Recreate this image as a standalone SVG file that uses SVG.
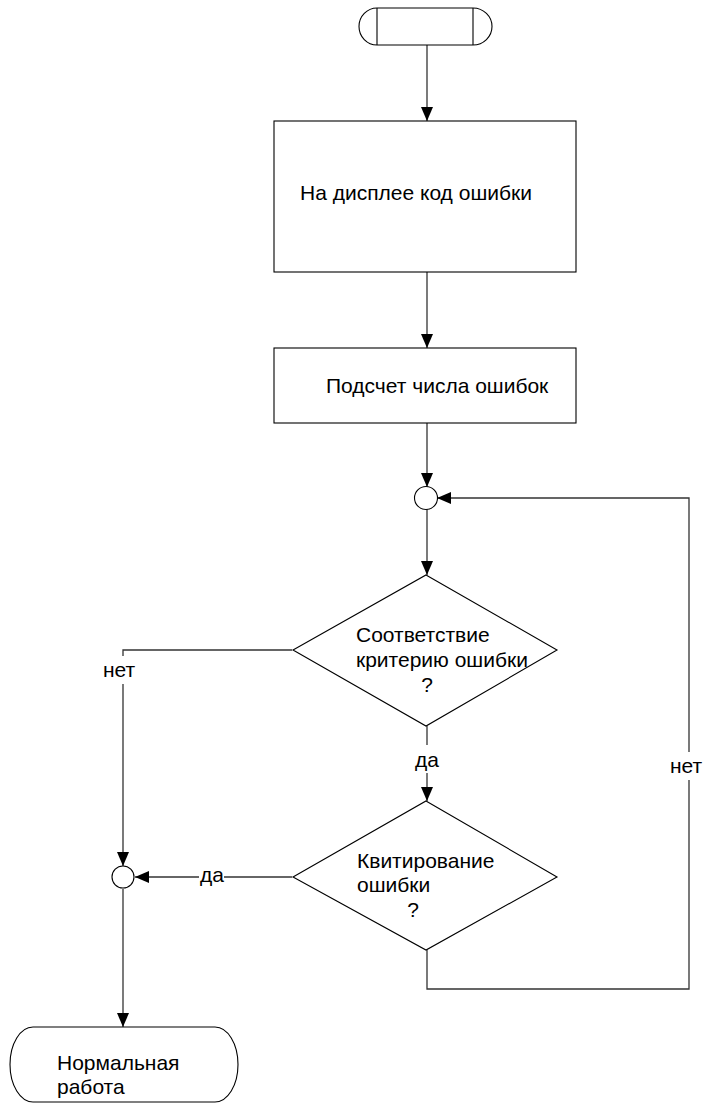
<svg xmlns="http://www.w3.org/2000/svg" width="705" height="1104" viewBox="0 0 705 1104">
<style>
.shape{fill:#fff;stroke:#000;stroke-width:1.1}
.line{fill:none;stroke:#333;stroke-width:1.3}
text{font-family:"Liberation Sans",Arial,sans-serif;font-size:21px;fill:#000}
.bg{fill:#fff;stroke:none}
</style>
<defs>
<marker id="arr" markerUnits="userSpaceOnUse" markerWidth="14" markerHeight="12" refX="14" refY="6" orient="auto">
<path d="M0,0 L14,6 L0,12 Z" fill="#000"/>
</marker>
</defs>
<g id="connectors">
<path class="line" d="M427,45 V121" marker-end="url(#arr)"/>
<path class="line" d="M427,272 V348" marker-end="url(#arr)"/>
<path class="line" d="M427,423 V487" marker-end="url(#arr)"/>
<path class="line" d="M427,509 V575" marker-end="url(#arr)"/>
<path class="line" d="M427,726 V801" marker-end="url(#arr)"/>
<path class="line" d="M292,650 H123 V866" marker-end="url(#arr)"/>
<path class="line" d="M292,877 H135" marker-end="url(#arr)"/>
<path class="line" d="M427,950 V989 H689 V498 H437" marker-end="url(#arr)"/>
<path class="line" d="M123,889 V1027" marker-end="url(#arr)"/>
<g id="labels">
<rect class="bg" x="101" y="656" width="37" height="28"/>
<text x="103" y="677">нет</text>
<rect class="bg" x="413" y="745" width="30" height="28"/>
<text x="415" y="767">да</text>
<rect class="bg" x="668" y="752" width="37" height="28"/>
<text x="670" y="773">нет</text>
<rect class="bg" x="199" y="862" width="25" height="24"/>
<text x="200" y="882">да</text>
</g>
</g>
<g id="start">
<path class="shape" d="M377,8 H473 A19,18.5 0 0 1 473,45 H377 A18,18.5 0 0 1 377,8 Z"/>
<path class="shape" d="M377,8 V45 M473,8 V45"/>
</g>
<g id="display">
<rect class="shape" x="274" y="121" width="302" height="151"/>
<text x="300" y="200">На дисплее код ошибки</text>
</g>
<g id="count">
<rect class="shape" x="274" y="348" width="302" height="75"/>
<text x="326" y="393">Подсчет числа ошибок</text>
</g>
<g id="junction1">
<circle class="shape" cx="426" cy="498" r="11.5"/>
</g>
<g id="criterion">
<polygon class="shape" points="426,575 557,650 426,726 293,650"/>
<text x="356" y="642">Соответствие</text>
<text x="356" y="667">критерию ошибки</text>
<text x="427" y="692" text-anchor="middle">?</text>
</g>
<g id="ack">
<polygon class="shape" points="426,801 557,877 426,950 293,877"/>
<text x="357" y="868">Квитирование</text>
<text x="357" y="892">ошибки</text>
<text x="413" y="917" text-anchor="middle">?</text>
</g>
<g id="junction2">
<circle class="shape" cx="123" cy="877" r="11"/>
</g>
<g id="end">
<path class="shape" d="M33,1027 H215 A23,37.5 0 0 1 215,1102 H33 A23,37.5 0 0 1 33,1027 Z"/>
<text x="57" y="1070">Нормальная</text>
<text x="57" y="1094">работа</text>
</g>
</svg>
